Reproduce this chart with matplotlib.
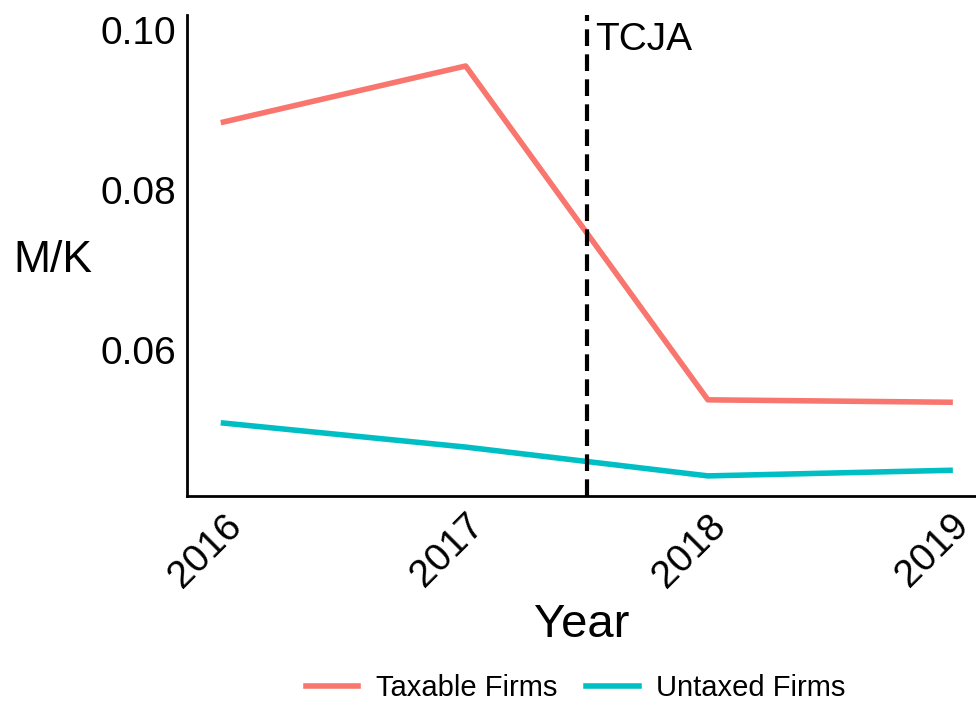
import matplotlib.pyplot as plt

plt.rcParams['font.family'] = ['Liberation Sans', 'DejaVu Sans']

years = [2016, 2017, 2018, 2019]
taxable = [0.0885, 0.0955, 0.0538, 0.0535]
untaxed = [0.0509, 0.0479, 0.0443, 0.0450]
tcja_year = 2017.5

fig = plt.figure(figsize=(9.76, 7.02), dpi=100)
ax = fig.add_axes([0.192, 0.293, 0.807, 0.686])

ax.plot(years, taxable, color='#F8766D', linewidth=4, label='Taxable Firms')
ax.plot(years, untaxed, color='#00BFC4', linewidth=4, label='Untaxed Firms')
ax.axvline(tcja_year, color='black', linestyle=(0, (4, 2)), linewidth=3)
ax.text(tcja_year + 0.035, 0.0987, 'TCJA', fontsize=28, va='center', ha='left')

ax.set_xlim(2015.851, 2019.103)
ax.set_ylim(0.04175, 0.1019)
ax.set_xticks(years)
ax.set_xticklabels([str(y) for y in years], rotation=45, ha='right', rotation_mode='anchor', fontsize=28)
ax.set_yticks([0.06, 0.08, 0.10])
ax.set_yticklabels(['0.06', '0.08', '0.10'], fontsize=28)
ax.tick_params(length=0, pad=8)
ax.spines['top'].set_visible(False)
ax.spines['right'].set_visible(False)
ax.spines['left'].set_linewidth(2)
ax.spines['bottom'].set_linewidth(2)
ax.set_xlabel('Year', fontsize=34, labelpad=6)
ax.set_ylabel('M/K', fontsize=32, rotation=0, ha='center', va='center')
ax.yaxis.set_label_coords(-0.171, 0.49)

fig.legend(loc='center', bbox_to_anchor=(0.59, 0.02), ncol=2, frameon=False, fontsize=21,
           handlelength=1.8, columnspacing=1.0, handletextpad=0.6)

fig.savefig('out.png', dpi=100)
